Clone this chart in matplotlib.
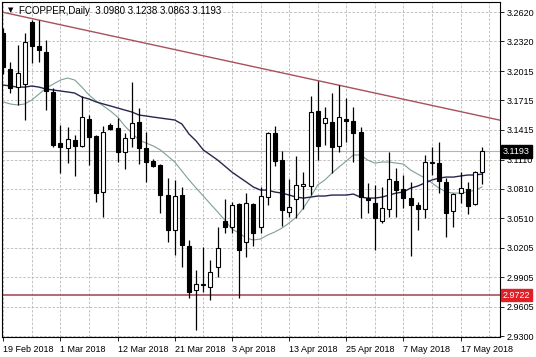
import matplotlib.pyplot as plt
import numpy as np

plt.rcParams['font.family'] = ['Liberation Sans', 'DejaVu Sans']

# daily candles, 19 Feb 2018 .. 21 May 2018 (bar index 0..67)
opens = [3.2405, 3.2037, 3.1852, 3.1883, 3.2518, 3.2273, 3.2211, 3.1802, 3.1279, 3.1228,
         3.1310, 3.1249, 3.1525, 3.1351, 3.0778, 3.1464, 3.1433, 3.1188, 3.1330, 3.1495,
         3.1228, 3.1095, 3.1054, 3.0747, 3.0389, 3.0747, 3.0226, 2.9775, 2.9826, 2.9805,
         3.0010, 3.0481, 3.0419, 3.0655, 3.0267, 3.0655, 3.0419, 3.0726, 3.1381, 3.1105,
         3.0574, 3.0706, 3.0839, 3.0839, 3.1607, 3.1484, 3.1495, 3.1249, 3.1525, 3.1505,
         3.1392, 3.0716, 3.0665, 3.0481, 3.0604, 3.0890, 3.0809, 3.0716, 3.0645, 3.0604,
         3.1074, 3.1074, 3.0881, 3.0584, 3.0767, 3.0809, 3.0655, 3.0980]
highs = [3.2456, 3.2109, 3.2283, 3.2405, 3.2538, 3.2538, 3.2334, 3.1842, 3.1464, 3.1443,
         3.1361, 3.1761, 3.1566, 3.1361, 3.1454, 3.1484, 3.1535, 3.1381, 3.1904, 3.1638,
         3.1392, 3.1116, 3.1064, 3.0921, 3.0901, 3.0829, 3.0287, 2.9980, 3.0215, 3.0082,
         3.0420, 3.0706, 3.0676, 3.0665, 3.0767, 3.0665, 3.0829, 3.1392, 3.1454, 3.1198,
         3.0911, 3.1147, 3.0982, 3.1761, 3.1914, 3.1648, 3.1791, 3.1873, 3.1740, 3.1648,
         3.1443, 3.0870, 3.0850, 3.0829, 3.1188, 3.1023, 3.0952, 3.0881, 3.0676, 3.1157,
         3.1238, 3.1290, 3.0921, 3.0767, 3.0982, 3.0881, 3.0993, 3.1238]
lows = [3.1986, 3.1791, 3.1669, 3.1515, 3.2098, 3.2109, 3.1617, 3.1238, 3.0972, 3.1074,
        3.0942, 3.1238, 3.1054, 3.0676, 3.0522, 3.1412, 3.1085, 3.1013, 3.1238, 3.1064,
        3.0881, 3.1034, 3.0563, 3.0267, 3.0133, 3.0010, 2.9693, 2.9365, 2.9755, 2.9672,
        2.9908, 3.0358, 3.0358, 2.9693, 3.0112, 3.0226, 3.0358, 3.0645, 3.1044, 3.0430,
        3.0522, 3.0512, 3.0604, 3.0747, 3.1105, 3.1259, 3.0972, 3.1188, 3.1290, 3.1085,
        3.0512, 3.0563, 3.0184, 3.0460, 3.0522, 3.0522, 3.0614, 3.0124, 3.0389, 3.0512,
        3.0952, 3.0767, 3.0318, 3.0419, 3.0665, 3.0553, 3.0645, 3.0863]
closes = [3.2057, 3.1842, 3.1996, 3.2314, 3.2273, 3.2231, 3.1812, 3.1259, 3.1238, 3.1320,
          3.1249, 3.1545, 3.1340, 3.0767, 3.1392, 3.1423, 3.1188, 3.1330, 3.1484, 3.1228,
          3.1085, 3.1044, 3.0747, 3.0389, 3.0737, 3.0236, 2.9755, 2.9836, 2.9836, 2.9960,
          3.0205, 3.0419, 3.0645, 3.0184, 3.0665, 3.0358, 3.0737, 3.1381, 3.1095, 3.0594,
          3.0624, 3.0850, 3.0860, 3.1597, 3.1249, 3.1535, 3.1238, 3.1545, 3.1505, 3.1381,
          3.0726, 3.0696, 3.0512, 3.0614, 3.0911, 3.0798, 3.0716, 3.0645, 3.0604, 3.1085,
          3.1085, 3.0890, 3.0563, 3.0757, 3.0818, 3.0635, 3.0982, 3.1193]

# moving averages
ma_slow = [3.1873, 3.1863, 3.1852, 3.1852, 3.1863, 3.1852, 3.1832, 3.1822, 3.1812, 3.1802,
           3.1791, 3.1750, 3.1730, 3.1700, 3.1679, 3.1659, 3.1638, 3.1617, 3.1597, 3.1566,
           3.1556, 3.1545, 3.1535, 3.1525, 3.1515, 3.1474, 3.1371, 3.1300, 3.1208, 3.1157,
           3.1105, 3.1044, 3.0982, 3.0931, 3.0881, 3.0829, 3.0798, 3.0798, 3.0778, 3.0767,
           3.0747, 3.0726, 3.0716, 3.0726, 3.0737, 3.0737, 3.0747, 3.0747, 3.0747, 3.0757,
           3.0726, 3.0716, 3.0716, 3.0726, 3.0747, 3.0767, 3.0778, 3.0818, 3.0839, 3.0870,
           3.0901, 3.0921, 3.0931, 3.0931, 3.0942, 3.0952, 3.0952, 3.0962]
ma_fast = [3.1700, 3.1679, 3.1669, 3.1679, 3.1720, 3.1781, 3.1842, 3.1883, 3.1924, 3.1945,
           3.1924, 3.1852, 3.1771, 3.1710, 3.1659, 3.1607, 3.1545, 3.1454, 3.1381, 3.1310,
           3.1279, 3.1249, 3.1208, 3.1147, 3.1085, 3.0993, 3.0901, 3.0818, 3.0737, 3.0655,
           3.0574, 3.0491, 3.0399, 3.0358, 3.0307, 3.0287, 3.0297, 3.0338, 3.0369, 3.0409,
           3.0460, 3.0522, 3.0614, 3.0726, 3.0850, 3.0901, 3.0972, 3.1034, 3.1095, 3.1157,
           3.1157, 3.1105, 3.1074, 3.1085, 3.1085, 3.1074, 3.1064, 3.1003, 3.0962, 3.0921,
           3.0870, 3.0818, 3.0778, 3.0767, 3.0767, 3.0778, 3.0798, 3.0829]

date_labels = ['19 Feb 2018', '1 Mar 2018', '12 Mar 2018', '21 Mar 2018', '3 Apr 2018',
               '13 Apr 2018', '25 Apr 2018', '7 May 2018', '17 May 2018']
price_ticks = [3.2620, 3.2320, 3.2015, 3.1715, 3.1415, 3.1110,
               3.0810, 3.0510, 3.0205, 2.9905, 2.9605, 2.9300]
trend_x = [-0.5, 69.6]
trend_y = [3.2625, 3.1512]
support = 2.9722
last_price = 3.1193

o = np.array(opens); h = np.array(highs); l = np.array(lows); c = np.array(closes)
x = np.arange(len(o))

fig = plt.figure(figsize=(5.36, 3.57), dpi=100)
ax = fig.add_axes([2 / 536, 20 / 357, 498 / 536, 335 / 357])

# grid
for gx in range(0, 72, 4):
    ax.axvline(gx, color='#b8b8b8', lw=0.6, ls=(0, (3, 2)), zorder=0)
for gy in price_ticks:
    ax.axhline(gy, color='#b8b8b8', lw=0.6, ls=(0, (3, 2)), zorder=0)

ax.axhline(last_price, color='#b4b4b4', lw=0.8, zorder=1)
ax.axhline(support, color='#a8505c', lw=1.2, zorder=1)
ax.plot(trend_x, trend_y, color='#a8505c', lw=1.0, zorder=1)

ax.plot(x, ma_fast, color='#7f9f97', lw=0.8, zorder=2)
ax.plot(x, ma_slow, color='#262650', lw=1.0, zorder=2)

# candles
ax.vlines(x, l, h, color='black', lw=0.9, zorder=3)
up = c >= o
bottom = np.minimum(o, c)
height = np.maximum(np.abs(c - o), 0.0006)
ax.bar(x, height, bottom=bottom, width=0.56,
       color=np.where(up, 'white', 'black'), edgecolor='black', lw=0.8, zorder=4)

ax.set_xlim(-0.18, 69.52)
ax.set_ylim(2.9294, 3.2723)

ax.yaxis.tick_right()
ax.set_yticks(price_ticks)
ax.set_yticklabels([f'{p:.4f}' for p in price_ticks], fontsize=6.5)
ax.set_xticks(range(0, 65, 8))
ax.set_xticklabels(date_labels, fontsize=6.5, ha='left')
ax.tick_params(axis='both', length=3, width=0.6, pad=2)
ax.tick_params(axis='x', pad=3)
for s in ax.spines.values():
    s.set_linewidth(0.8)

ax.annotate(f'{last_price:.4f}', xy=(1.006, last_price), xycoords=('axes fraction', 'data'),
            fontsize=6.5, color='white', va='center', ha='left',
            bbox=dict(boxstyle='square,pad=0.2', fc='black', ec='black'))
ax.annotate(f'{support:.4f}', xy=(1.006, support), xycoords=('axes fraction', 'data'),
            fontsize=6.5, color='white', va='center', ha='left',
            bbox=dict(boxstyle='square,pad=0.2', fc='#e02026', ec='#e02026'))

ax.text(0.012, 0.985, '\u25bc', transform=ax.transAxes, fontsize=5,
        va='top', ha='left', family='DejaVu Sans')
ax.text(0.034, 0.988, 'FCOPPER,Daily  %.4f %.4f %.4f %.4f' % (o[-1], h[-1], l[-1], c[-1]),
        transform=ax.transAxes, fontsize=7, va='top', ha='left')

fig.savefig('out.png', dpi=100)
